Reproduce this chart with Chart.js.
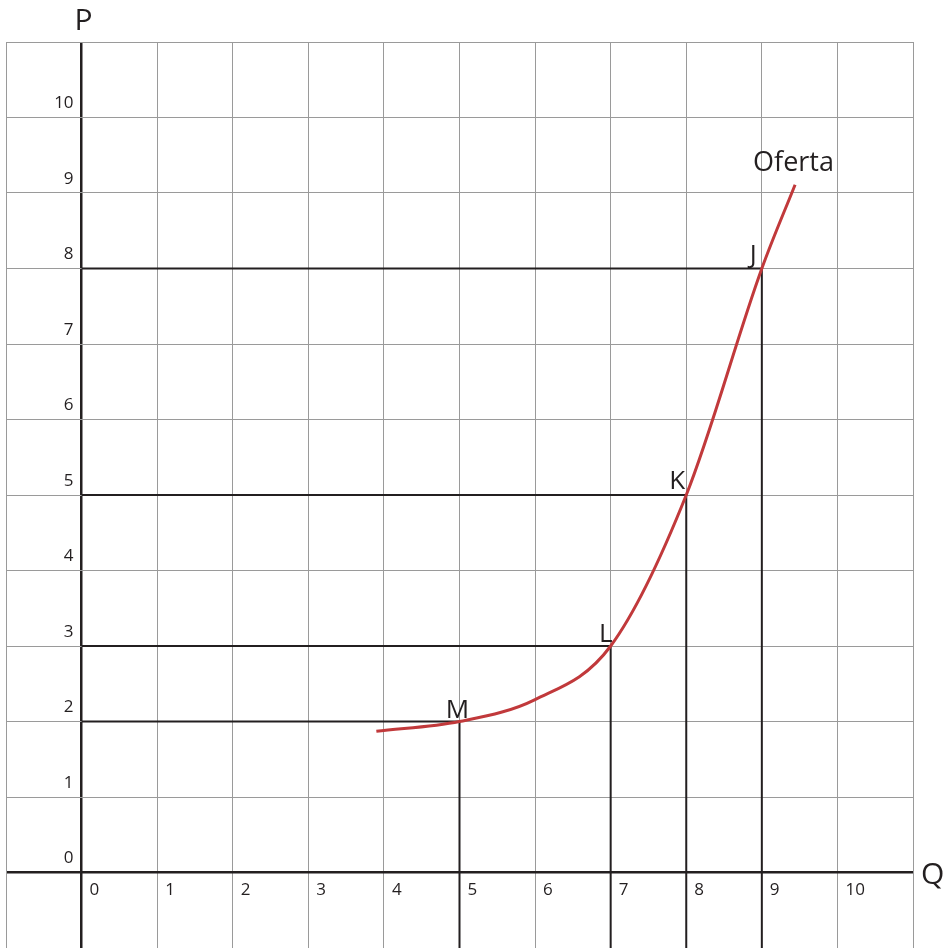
<!DOCTYPE html>
<html>
<head>
    <meta charset="utf-8" />
    <style>
        body { margin: 0; background: #ffffff; }
        canvas { display: block; }
    </style>
</head>
<body>
    <canvas id="chart" width="950" height="948"></canvas>

    <script src="https://cdn.jsdelivr.net/npm/chart.js"></script>
    <script type="text/javascript">
        // Datos de la curva de oferta
        var supplyQ = [3.9, 5, 6, 7, 8, 9, 9.44];
        var supplyP = [1.87, 2, 2.29, 3, 5, 8, 9.11];

        // Puntos marcados
        var pointNames = ['J', 'K', 'L', 'M'];
        var pointQ = [9, 8, 7, 5];
        var pointP = [8, 5, 3, 2];

        // Etiquetas de los ejes
        var xTicks = [0, 1, 2, 3, 4, 5, 6, 7, 8, 9, 10];
        var yTicks = [0, 1, 2, 3, 4, 5, 6, 7, 8, 9, 10];
        var curveName = 'Oferta';

        var FONT = '"Open Sans", "Noto Sans", sans-serif';
        var INK = '#231f20';
        var RED = '#c1393b';

        // posicion de cada letra respecto a su punto
        var labelStyle = {
            J: { align: 'right', dx: -5, dy: -6 },
            K: { align: 'right', dx: -1, dy: -6 },
            L: { align: 'center', dx: -5, dy: -4 },
            M: { align: 'center', dx: -2, dy: -4 }
        };

        var datasets = [];
        datasets.push({
            label: curveName,
            data: supplyQ.map(function (q, i) { return { x: q, y: supplyP[i] }; }),
            showLine: true,
            borderColor: RED,
            borderWidth: 3,
            pointRadius: 0,
            cubicInterpolationMode: 'monotone',
            order: 0
        });
        // lineas guia de cada punto
        pointNames.forEach(function (n, i) {
            datasets.push({
                label: n,
                data: [{ x: 0, y: pointP[i] }, { x: pointQ[i], y: pointP[i] }, { x: pointQ[i], y: -1 }],
                showLine: true,
                borderColor: INK,
                borderWidth: 2,
                pointRadius: 0,
                tension: 0,
                order: 1
            });
        });

        var textPlugin = {
            id: 'textos',
            afterDatasetsDraw: function (chart) {
                var ctx = chart.ctx;
                var xs = chart.scales.x;
                var ys = chart.scales.y;
                ctx.save();
                ctx.fillStyle = INK;

                // numeros del eje Q
                ctx.font = '17px ' + FONT;
                ctx.textAlign = 'left';
                ctx.textBaseline = 'middle';
                xTicks.forEach(function (v) {
                    ctx.fillText(String(v), xs.getPixelForValue(v) + 8, ys.getPixelForValue(0) + 18);
                });
                // numeros del eje P
                ctx.textAlign = 'right';
                yTicks.forEach(function (v) {
                    ctx.fillText(String(v), xs.getPixelForValue(0) - 8, ys.getPixelForValue(v) - 14);
                });

                // nombres de los ejes
                ctx.font = '30px ' + FONT;
                ctx.textAlign = 'center';
                ctx.fillText('P', xs.getPixelForValue(0) + 2, 21);
                ctx.textAlign = 'left';
                ctx.fillText('Q', xs.right + 8, ys.getPixelForValue(0) + 3);

                // nombre de la curva
                ctx.font = '27px ' + FONT;
                ctx.textAlign = 'left';
                ctx.textBaseline = 'alphabetic';
                var last = supplyQ.length - 1;
                ctx.fillText(curveName, xs.getPixelForValue(supplyQ[last]) - 42, ys.getPixelForValue(supplyP[last]) - 14);

                // letras de los puntos
                ctx.font = '26px ' + FONT;
                pointNames.forEach(function (n, i) {
                    var st = labelStyle[n];
                    ctx.textAlign = st.align;
                    ctx.fillText(n, xs.getPixelForValue(pointQ[i]) + st.dx, ys.getPixelForValue(pointP[i]) + st.dy);
                });
                ctx.restore();
            }
        };

        function gridColor(c) { return c.tick && c.tick.value === 0 ? INK : '#9a9a9a'; }
        function gridWidth(c) { return c.tick && c.tick.value === 0 ? 2.5 : 1; }

        new Chart(document.getElementById('chart').getContext('2d'), {
            type: 'scatter',
            data: { datasets: datasets },
            options: {
                responsive: false,
                animation: false,
                layout: { padding: { left: 6, top: 42, right: 37, bottom: 0 } },
                plugins: {
                    legend: { display: false },
                    tooltip: { enabled: false }
                },
                scales: {
                    x: {
                        type: 'linear',
                        min: -1,
                        max: 11,
                        ticks: { display: false, stepSize: 1 },
                        grid: { color: gridColor, lineWidth: gridWidth, drawTicks: false },
                        border: { display: true, color: '#9a9a9a', width: 1 }
                    },
                    y: {
                        type: 'linear',
                        min: -1,
                        max: 11,
                        ticks: { display: false, stepSize: 1 },
                        grid: { color: gridColor, lineWidth: gridWidth, drawTicks: false },
                        border: { display: true, color: '#9a9a9a', width: 1 }
                    }
                }
            },
            plugins: [textPlugin]
        });
    </script>
</body>
</html>
